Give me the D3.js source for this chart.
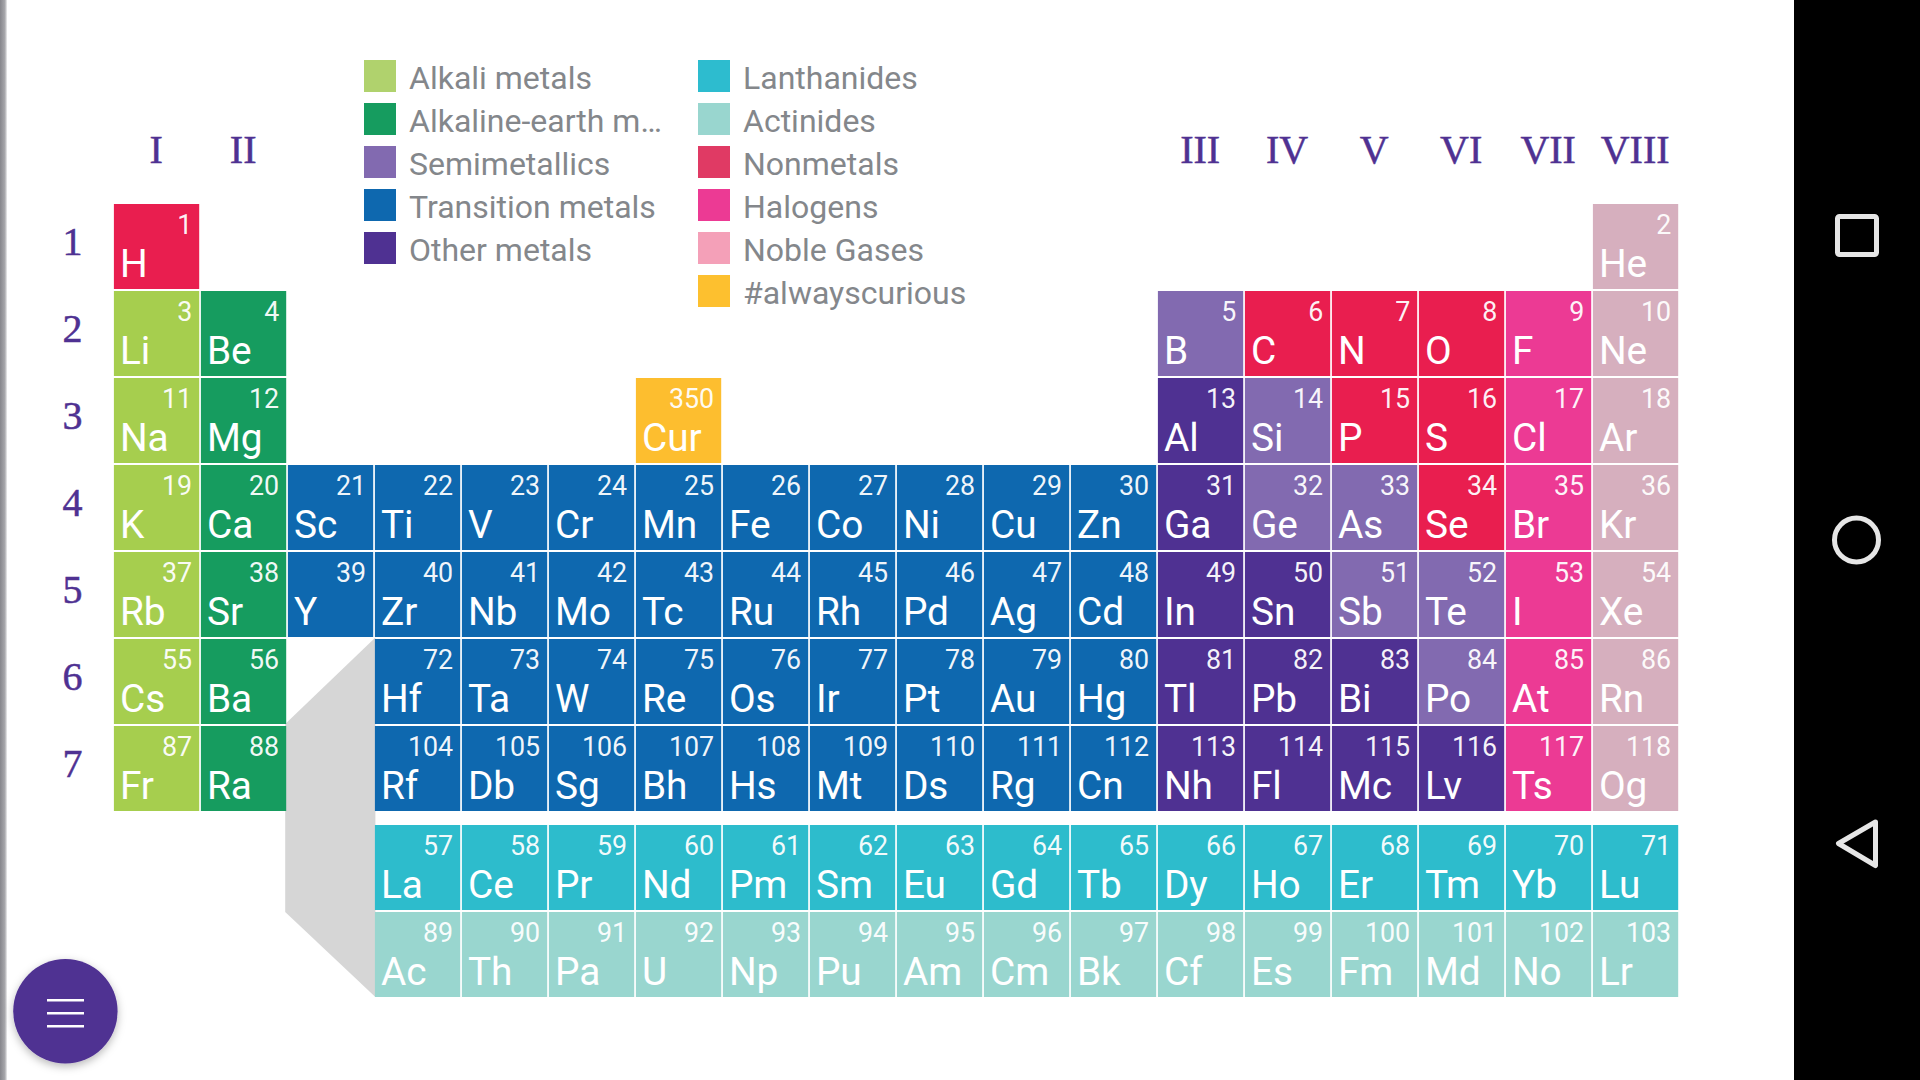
<!DOCTYPE html>
<html><head><meta charset="utf-8">
<style>html,body{margin:0;padding:0;background:#fff;overflow:hidden}svg{display:block}
text{font-family:Roboto,sans-serif}</style>
<script src="https://cdnjs.cloudflare.com/ajax/libs/d3/7.8.5/d3.min.js"></script></head><body><div id="c"></div>
<script>
const groupLabels=["I","II","III","IV","V","VI","VII","VIII"];
const groupColumns=[0,1,12,13,14,15,16,17];
const periodLabels=[1,2,3,4,5,6,7];
const legendLeft=["Alkali metals","Alkaline-earth m…","Semimetallics","Transition metals","Other metals"];
const legendRight=["Lanthanides","Actinides","Nonmetals","Halogens","Noble Gases","#alwayscurious"];
const legendLeftColors=["#b0d26d","#169c5f","#826ab0","#0e68af","#4f3192"];
const legendRightColors=["#2dbccf","#99d6cf","#e03a64","#ec3a94","#f4a0b8","#fdc02f"];
const catColors={a:"#a6ce4e",e:"#169c5f",s:"#826ab0",t:"#0e68af",o:"#4f3192",l:"#2dbccc",c:"#99d6cf",n:"#e91e4f",h:"#ec3a94",g:"#d6afbe",x:"#fdbe2f"};
const symbolRows=[
"H . . . . . . . . . . . . . . . . He",
"Li Be . . . . . . . . . . B C N O F Ne",
"Na Mg . . . . Cur . . . . . Al Si P S Cl Ar",
"K Ca Sc Ti V Cr Mn Fe Co Ni Cu Zn Ga Ge As Se Br Kr",
"Rb Sr Y Zr Nb Mo Tc Ru Rh Pd Ag Cd In Sn Sb Te I Xe",
"Cs Ba . Hf Ta W Re Os Ir Pt Au Hg Tl Pb Bi Po At Rn",
"Fr Ra . Rf Db Sg Bh Hs Mt Ds Rg Cn Nh Fl Mc Lv Ts Og",
". . . La Ce Pr Nd Pm Sm Eu Gd Tb Dy Ho Er Tm Yb Lu",
". . . Ac Th Pa U Np Pu Am Cm Bk Cf Es Fm Md No Lr"];
const numberRows=[
"1 . . . . . . . . . . . . . . . . 2",
"3 4 . . . . . . . . . . 5 6 7 8 9 10",
"11 12 . . . . 350 . . . . . 13 14 15 16 17 18",
"19 20 21 22 23 24 25 26 27 28 29 30 31 32 33 34 35 36",
"37 38 39 40 41 42 43 44 45 46 47 48 49 50 51 52 53 54",
"55 56 . 72 73 74 75 76 77 78 79 80 81 82 83 84 85 86",
"87 88 . 104 105 106 107 108 109 110 111 112 113 114 115 116 117 118",
". . . 57 58 59 60 61 62 63 64 65 66 67 68 69 70 71",
". . . 89 90 91 92 93 94 95 96 97 98 99 100 101 102 103"];
const categoryRows=[
"n . . . . . . . . . . . . . . . . g",
"a e . . . . . . . . . . s n n n h g",
"a e . . . . x . . . . . o s n n h g",
"a e t t t t t t t t t t o s s n h g",
"a e t t t t t t t t t t o o s s h g",
"a e . t t t t t t t t t o o o s h g",
"a e . t t t t t t t t t o o o o h g",
". . . l l l l l l l l l l l l l l l",
". . . c c c c c c c c c c c c c c c"];

const W=1920,H=1080;
const svg=d3.select("#c").append("svg").attr("width",W).attr("height",H).attr("viewBox",`0 0 ${W} ${H}`);
const defs=svg.append("defs");
const lg=defs.append("linearGradient").attr("id","edge");
lg.append("stop").attr("offset","0").attr("stop-color","#86868c");
lg.append("stop").attr("offset","0.65").attr("stop-color","#a8a8ac");
lg.append("stop").attr("offset","1").attr("stop-color","#ffffff");
const sh=defs.append("filter").attr("id","fab").attr("x","-30%").attr("y","-30%").attr("width","160%").attr("height","160%");
sh.append("feDropShadow").attr("dx",0).attr("dy",3).attr("stdDeviation",4).attr("flood-color","#000").attr("flood-opacity",.28);

const x=d3.scaleBand().domain(d3.range(18)).range([113.9,113.9+87*17+85.3]).paddingInner(1.7/87);
const yMain=d3.scaleBand().domain(d3.range(7)).range([204,204+87*6+85]).paddingInner(2/87);
const yF=d3.scaleBand().domain([7,8]).range([825,825+87+85]).paddingInner(2/87);
const y=r=>r<7?yMain(r):yF(r);
const cells=[];
symbolRows.forEach((row,r)=>{
  const s=row.split(" "),n=numberRows[r].split(" "),c=categoryRows[r].split(" ");
  s.forEach((sym,col)=>{if(sym!==".")cells.push({sym,num:n[col],cat:c[col],col,r});});
});

svg.append("rect").attr("width",7.5).attr("height",H).attr("fill","url(#edge)");
svg.append("rect").attr("x",1794).attr("width",W-1794).attr("height",H).attr("fill","#000");

// connector between the main table and the f-block
const connector=d3.line();
svg.append("path").attr("fill","#d6d6d6").attr("d",connector([
 [x(3)+.5,y(5)-1.5],[x(1)+x.bandwidth()-1,y(6)-2],[x(1)+x.bandwidth()-1,y(8)],[x(3)+.5,y(8)+yF.bandwidth()]])+"Z");

const legendY=d3.scaleBand().domain(d3.range(6)).range([60,60+43*5+32]).paddingInner(11/43);
function legend(names,colors,sx,tx){
  const g=svg.append("g").selectAll("g").data(names).join("g");
  g.append("rect").attr("x",sx).attr("y",(d,i)=>legendY(i)).attr("width",32).attr("height",legendY.bandwidth()).attr("fill",(d,i)=>colors[i]);
  g.append("text").attr("x",tx).attr("y",(d,i)=>legendY(i)+28.8).attr("font-size",32).attr("font-weight",400).attr("fill","#84878b").text(d=>d);
}
legend(legendLeft,legendLeftColors,364,409);
legend(legendRight,legendRightColors,698,743);

const serif=s=>s.style("font-family","'Liberation Serif',serif").attr("fill","#4f3192").attr("stroke","#4f3192").attr("stroke-width",.5);
svg.append("g").selectAll("text").data(groupLabels).join("text")
 .attr("x",(d,i)=>x(groupColumns[i])+x.bandwidth()/2-.4).attr("y",163.3).attr("text-anchor","middle")
 .attr("font-size",40).call(serif).text(d=>d);
svg.append("g").selectAll("text").data(periodLabels).join("text")
 .attr("x",72.6).attr("y",(d,i)=>yMain(i)+51).attr("text-anchor","middle")
 .attr("font-size",40).call(serif).text(d=>d);

const cell=svg.append("g").selectAll("g").data(cells).join("g");
cell.append("rect").attr("x",d=>x(d.col)).attr("y",d=>y(d.r)).attr("width",x.bandwidth()).attr("height",yMain.bandwidth()).attr("fill",d=>catColors[d.cat]);
cell.append("text").attr("x",d=>x(d.col)+6).attr("y",d=>y(d.r)+73.3).attr("font-size",38.8).attr("fill","#fff").text(d=>d.sym);
cell.append("text").attr("x",d=>x(d.col)+x.bandwidth()-7).attr("y",d=>y(d.r)+30.4).attr("text-anchor","end").attr("font-size",26.8).attr("fill","#fff").attr("fill-opacity",.95).attr("font-weight",400).text(d=>d.num);

// menu button
svg.append("circle").attr("cx",65.4).attr("cy",1011.3).attr("r",52.2).attr("fill","#4f3192").attr("filter","url(#fab)");
svg.append("g").selectAll("line").data([1000.3,1013.3,1026.3]).join("line").attr("x1",47).attr("x2",84).attr("y1",d=>d).attr("y2",d=>d).attr("stroke","#fff").attr("stroke-width",2.4);

// navigation bar
const nav=svg.append("g").attr("fill","none").attr("stroke","#e6e6e6").attr("stroke-width",5).attr("stroke-linejoin","round");
nav.append("rect").attr("x",1837.5).attr("y",216.5).attr("width",39).attr("height",38).attr("rx",2);
nav.append("circle").attr("cx",1856.5).attr("cy",540).attr("r",22);
nav.append("path").attr("d","M1875.5 822 L1838.5 843.5 L1875.5 865.5 Z");
</script></body></html>
